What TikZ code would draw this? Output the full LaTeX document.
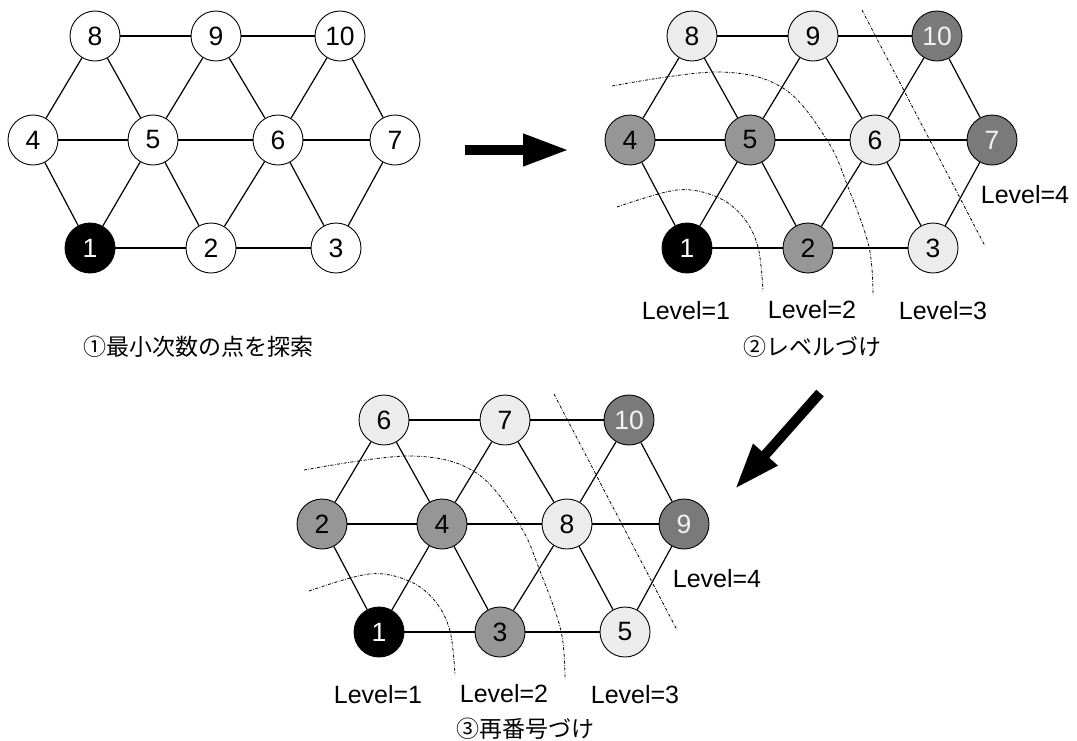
\documentclass[tikz,border=0pt]{standalone}
\usepackage{fontspec}
\setmainfont{Liberation Sans}
\newfontfamily\jpfont{Noto Sans CJK JP}
\usetikzlibrary{arrows.meta}
\definecolor{fillmid}{gray}{0.59}
\definecolor{filldark}{gray}{0.48}
\definecolor{filllight}{gray}{0.925}
\tikzset{
  vtx/.style={circle,draw=black,line width=0.9pt,minimum size=50pt,inner sep=0pt,
              font=\fontsize{26.5}{26.5}\selectfont},
  vwhite/.style={vtx,fill=white},
  vblack/.style={vtx,fill=black,text=white},
  vmid/.style={vtx,fill=fillmid},
  vdark/.style={vtx,fill=filldark,text=white!95!black},
  vlight/.style={vtx,fill=filllight},
  edge/.style={line width=1.2pt},
  bound/.style={line width=0.8pt,dash pattern=on 3pt off 1.5pt on 0.7pt off 1.5pt},
  lvl/.style={font=\fontsize{25}{25}\selectfont},
  captext/.style={font=\jpfont\fontsize{23}{23}\selectfont},
  bigarrow/.style={line width=10pt,-{Triangle[length=46pt,width=30pt]}}
}
\begin{document}
\begin{tikzpicture}[x=1pt,y=-1pt]
\useasboundingbox (0,0) rectangle (1077,740);

% ---------- step 1: original numbering ----------
\begin{scope}[shift={(-597,0)}]
  \node[vwhite] (a8)  at (692,36)  {8};
  \node[vwhite] (a9)  at (813,36)  {9};
  \node[vwhite] (a10) at (937,36)  {10};
  \node[vwhite] (a4)  at (630,140) {4};
  \node[vwhite] (a5)  at (750,140) {5};
  \node[vwhite] (a6)  at (875,140) {6};
  \node[vwhite] (a7)  at (992,140) {7};
  \node[vblack] (a1)  at (687,248) {1};
  \node[vwhite] (a2)  at (808,248) {2};
  \node[vwhite] (a3)  at (933,248) {3};
\end{scope}
\node[captext] (capa) at (198,347) {①最小次数の点を探索};

% ---------- step 2: level structure ----------
\node[vlight] (b8)  at (692,36)  {8};
\node[vlight] (b9)  at (813,36)  {9};
\node[vdark]  (b10) at (937,36)  {10};
\node[vmid]   (b4)  at (630,140) {4};
\node[vmid]   (b5)  at (750,140) {5};
\node[vlight] (b6)  at (875,140) {6};
\node[vdark]  (b7)  at (992,140) {7};
\node[vblack] (b1)  at (687,248) {1};
\node[vmid]   (b2)  at (808,248) {2};
\node[vlight] (b3)  at (933,248) {3};
\node[captext] (capb) at (812,347) {②レベルづけ};

% ---------- step 3: renumbered ----------
\begin{scope}[shift={(-308,384)}]
  \node[vlight] (c8)  at (692,36)  {6};
  \node[vlight] (c9)  at (813,36)  {7};
  \node[vdark]  (c10) at (937,36)  {10};
  \node[vmid]   (c4)  at (630,140) {2};
  \node[vmid]   (c5)  at (750,140) {4};
  \node[vlight] (c6)  at (875,140) {8};
  \node[vdark]  (c7)  at (992,140) {9};
  \node[vblack] (c1)  at (687,248) {1};
  \node[vmid]   (c2)  at (808,248) {3};
  \node[vlight] (c3)  at (933,248) {5};
\end{scope}
\node[captext] (capc) at (525,729) {③再番号づけ};

% edges of the triangular mesh
\foreach \g in {a,b,c}{
  \foreach \u/\v in {8/9,9/10,4/5,5/6,6/7,1/2,2/3,8/4,8/5,9/5,9/6,10/6,10/7,4/1,5/1,5/2,6/2,6/3,7/3}{
    \draw[edge] (\g\u) -- (\g\v);
  }
}

% level boundaries and labels
\foreach \g/\sx/\sy in {b/0/0,c/-308/384}{
  \begin{scope}[shift={(\sx,\sy)}]
    \draw[bound] plot[smooth,tension=0.6] coordinates
      {(617,207) (677,190) (717,197) (743,217) (758,247) (763,291)};
    \draw[bound] plot[smooth,tension=0.6] coordinates
      {(612,86) (717,72) (783,88) (827,140) (848,187) (869,247) (873,296)};
    \draw[bound] (862,10) -- (985,246);
    \node[lvl] (\g l1) at (686,311) {Level=1};
    \node[lvl] (\g l2) at (812,310) {Level=2};
    \node[lvl] (\g l3) at (943,311) {Level=3};
    \node[lvl] (\g l4) at (1025,195) {Level=4};
  \end{scope}
}

% process arrows
\coordinate (r0) at (465,150);
\coordinate (r1) at (569,150);
\draw[bigarrow] (r0) -- (r1);
\coordinate (d0) at (820,393);
\coordinate (d1) at (735,489);
\draw[bigarrow] (d0) -- (d1);
\end{tikzpicture}
\end{document}
